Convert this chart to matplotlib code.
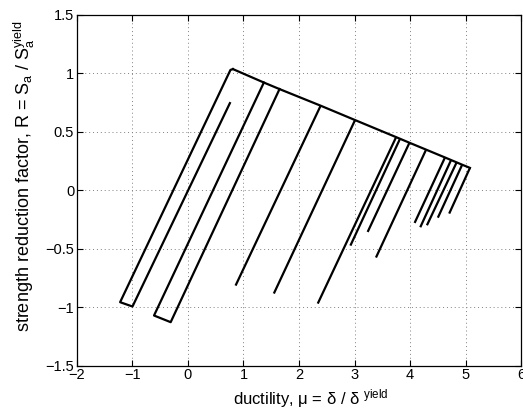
import matplotlib
matplotlib.use("Agg")
import matplotlib.pyplot as plt

plt.rcParams['font.family'] = ['Liberation Sans', 'DejaVu Sans']
plt.rcParams['mathtext.fontset'] = 'custom'
plt.rcParams['mathtext.rm'] = 'Liberation Sans'
plt.rcParams['mathtext.it'] = 'Liberation Sans'

# backbone (envelope) points: ductility, R
backbone_mu = [0.81, 1.367, 1.649, 2.39, 3.01, 3.75, 3.82, 3.99, 4.29, 4.63, 4.74, 4.84, 4.94, 5.08]
backbone_R = [1.037, 0.922, 0.866, 0.724, 0.601, 0.455, 0.441, 0.407, 0.348, 0.281, 0.259, 0.239, 0.219, 0.192]

# first cyclic loop
loop1_mu = [0.755, -1.0, -1.223, 0.765, 0.81]
loop1_R = [0.746, -0.994, -0.957, 1.03, 1.037]

# second cyclic loop
loop2_mu = [1.367, -0.612, -0.312, 1.649]
loop2_R = [0.922, -1.071, -1.128, 0.866]

# unloading branches: start on backbone, end point
branch_top_mu = [2.39, 3.01, 3.75, 3.82, 3.99, 4.29, 4.63, 4.74, 4.84, 4.94, 5.08]
branch_top_R = [0.724, 0.601, 0.455, 0.441, 0.407, 0.348, 0.281, 0.259, 0.239, 0.219, 0.192]
branch_end_mu = [0.857, 1.547, 2.338, 2.926, 3.237, 3.387, 4.083, 4.185, 4.305, 4.502, 4.706]
branch_end_R = [-0.815, -0.883, -0.969, -0.473, -0.356, -0.575, -0.279, -0.316, -0.299, -0.234, -0.199]

xticks = [-2, -1, 0, 1, 2, 3, 4, 5, 6]
yticks = [-1.5, -1, -0.5, 0, 0.5, 1, 1.5]

fig = plt.figure(figsize=(5.23, 4.16), dpi=100)
ax = fig.add_axes([0.1472, 0.121, 0.849, 0.843])

lw = 1.6
ax.plot(backbone_mu, backbone_R, color='black', lw=lw, solid_joinstyle='round')
ax.plot(loop1_mu, loop1_R, color='black', lw=lw, solid_joinstyle='round')
ax.plot(loop2_mu, loop2_R, color='black', lw=lw, solid_joinstyle='round')
for x0, y0, x1, y1 in zip(branch_top_mu, branch_top_R, branch_end_mu, branch_end_R):
    ax.plot([x0, x1], [y0, y1], color='black', lw=lw, solid_capstyle='butt')

ax.set_xlim(-2, 6)
ax.set_ylim(-1.5, 1.5)
ax.set_xticks(xticks)
ax.set_yticks(yticks)
ax.set_xticklabels(['\u22122', '\u22121', '0', '1', '2', '3', '4', '5', '6'])
ax.set_yticklabels(['\u22121.5', '\u22121', '\u22120.5', '0', '0.5', '1', '1.5'])
ax.grid(True, linestyle=(0, (1, 3)), color='#808080', linewidth=0.7)
ax.tick_params(direction='in', top=True, right=True, length=4, width=0.8, labelsize=10.5, pad=2)
for s in ax.spines.values():
    s.set_linewidth(0.9)

ax.set_xlabel(r'ductility, $\mathregular{\mu}$ = $\mathregular{\delta}$ / $\mathregular{\delta}$ $^\mathregular{yield}$',
              fontsize=12)
ax.set_ylabel(r'strength reduction factor, R = S$_\mathregular{a}$ / S$_\mathregular{a}^\mathregular{yield}$',
              fontsize=13)
ax.xaxis.set_label_coords(0.527, -0.062)
ax.yaxis.set_label_coords(-0.09, 0.541)

fig.savefig('out.png', dpi=100)
